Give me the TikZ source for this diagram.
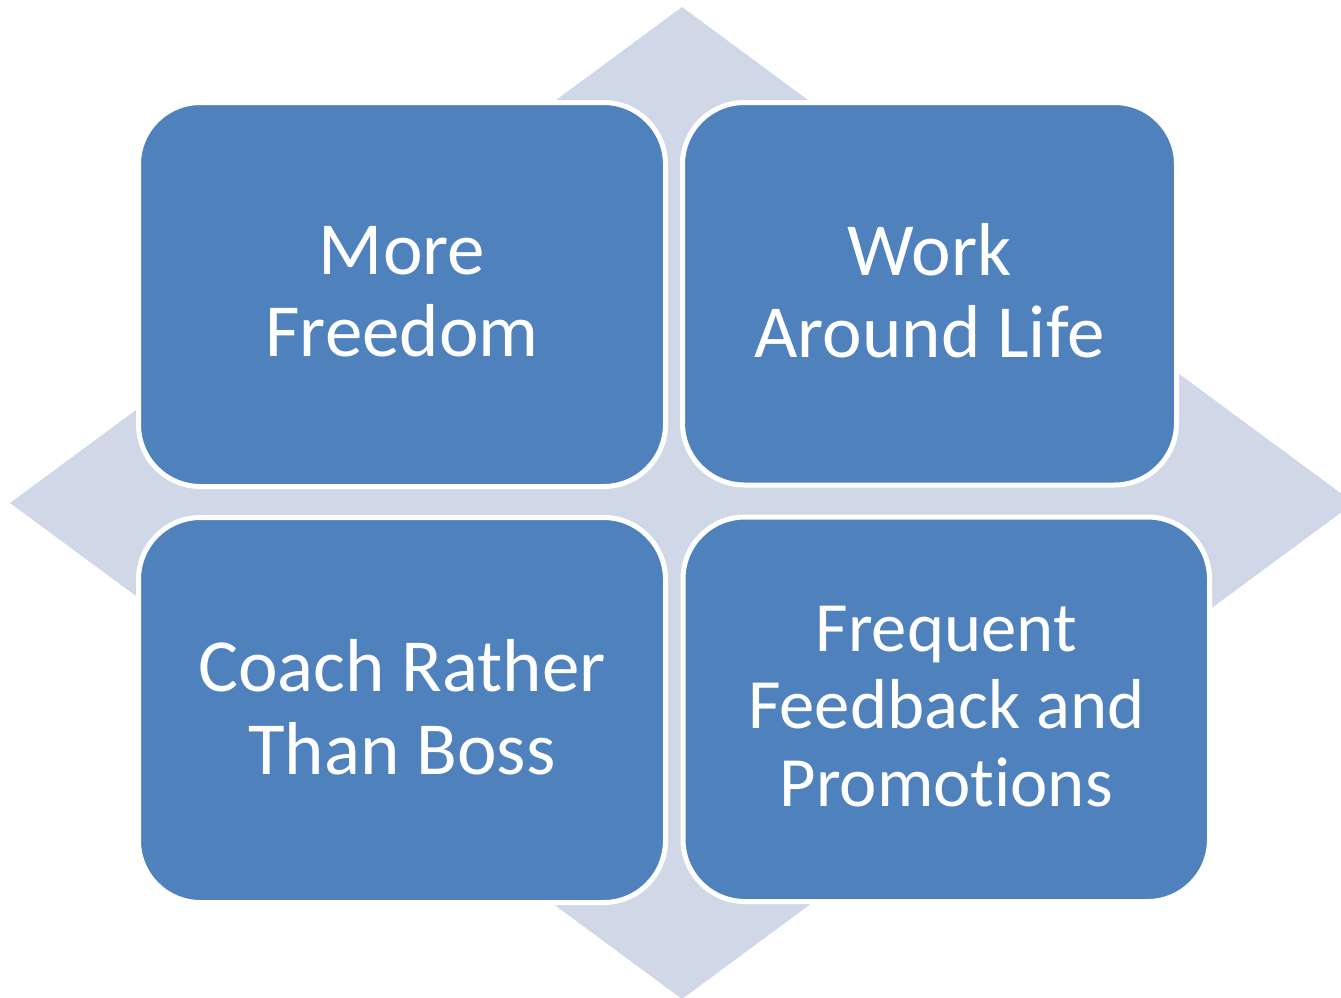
\documentclass[tikz,border=0pt]{standalone}
\usepackage{fontspec}
\setmainfont[Ligatures=NoCommon]{Carlito}
\definecolor{tileblue}{HTML}{4F81BD}
\definecolor{diamondgray}{HTML}{D0D8E8}
\tikzset{
  tile/.style={rectangle, rounded corners=62pt, draw=white, line width=5pt,
    fill=tileblue, text=white, align=center, inner sep=0pt, text depth=6.5pt},
  bigtext/.style={font=\fontsize{75}{82.4}\selectfont},
  smalltext/.style={font=\fontsize{70.7}{77.6}\selectfont},
}
\begin{document}
\begin{tikzpicture}[x=1pt, y=-1pt]
  \useasboundingbox (0,0) rectangle (1341,997);
  \begin{scope}
    \clip (0,0) rectangle (1341,997);
    % background diamond
    \fill[diamondgray] (682,7) -- (1354,503) -- (682,999) -- (10,503) -- cycle;
  \end{scope}
  % four rounded tiles
  \node[tile, bigtext, minimum width=527pt, minimum height=384pt]
    (freedom) at (402,294.5) {More\\Freedom};
  \node[tile, bigtext, minimum width=494pt, minimum height=382.5pt]
    (life) at (929.5,293.75) {Work\\Around Life};
  \node[tile, bigtext, minimum width=527pt, minimum height=385pt]
    (coach) at (402,710) {Coach Rather\\Than Boss};
  \node[tile, smalltext, minimum width=526.5pt, minimum height=384.5pt]
    (feedback) at (946.25,709.25) {Frequent\\Feedback and\\Promotions};
\end{tikzpicture}
\end{document}
